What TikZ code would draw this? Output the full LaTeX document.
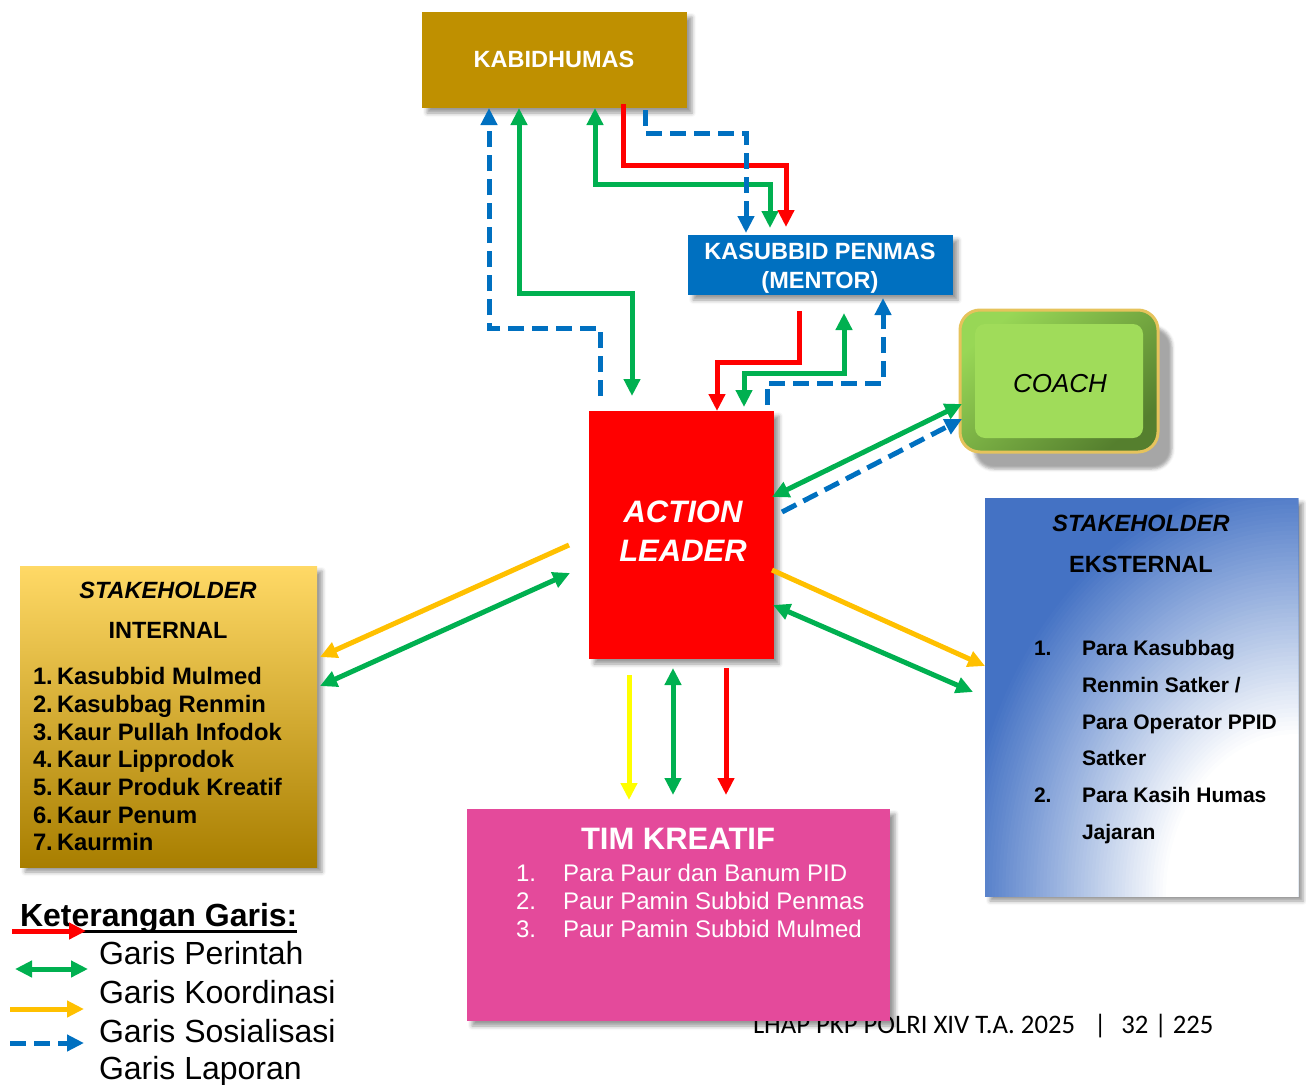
\documentclass[tikz,border=0pt]{standalone}
\usepackage{fontspec}
\setmainfont{Liberation Sans}
\newfontfamily\footfont{Carlito}
\usetikzlibrary{arrows.meta,shadows.blur,calc}
\definecolor{ckab}{HTML}{BF9000}
\definecolor{cks}{HTML}{0070C0}
\definecolor{cred}{HTML}{FF0000}
\definecolor{cgreen}{HTML}{00B050}
\definecolor{corange}{HTML}{FFC000}
\definecolor{cyellow}{HTML}{FFFF00}
\definecolor{cblue}{HTML}{0070C0}
\definecolor{ctk}{HTML}{E44A9B}
\definecolor{cse}{HTML}{4472C4}
\definecolor{sitop}{HTML}{FFD966}
\definecolor{simid}{HTML}{FFC000}
\definecolor{sibot}{HTML}{A87E00}
\definecolor{coface}{HTML}{A0DC5A}
\definecolor{colight}{HTML}{98D756}
\definecolor{codark}{HTML}{557F2E}
\definecolor{coborder}{HTML}{E6C35C}
\newcommand\fsz[1]{\fontsize{#1}{#1}\selectfont}
\tikzset{
  box/.style={draw=none, inner sep=0pt, outer sep=0pt, anchor=north west,
    blur shadow={shadow xshift=5pt, shadow yshift=-5pt, shadow blur radius=4pt, shadow opacity=40}},
  txt/.style={inner sep=0pt, outer sep=0pt},
  tipT/.tip={Triangle[length=17pt,width=16pt]},
  conn/.style={line width=5pt},
  perintah/.style={conn, draw=cred, -tipT},
  koord/.style={conn, draw=cgreen, tipT-tipT},
  sosial/.style={conn, draw=corange, -tipT},
  laporan/.style={conn, draw=cblue, dash pattern=on 16pt off 8pt, -tipT},
}
\begin{document}
\begin{tikzpicture}[x=1pt,y=-1pt]
\useasboundingbox (0,0) rectangle (1306,1084);

% footer (under the TIM KREATIF box)
\node[txt, anchor=base west] (foot) at (753,1033) {\footfont\fsz{26.7pt}LHAP PKP POLRI XIV T.A. 2025\hspace{19pt}|\hspace{15pt}32 | 225};

% boxes
\node[box, fill=ckab, minimum width=265pt, minimum height=96pt] (kab) at (422,12) {};
\node[txt, text=white, font=\bfseries\fsz{23.5pt}, anchor=base] at (554,67) {KABIDHUMAS};

\node[box, fill=cks, minimum width=265pt, minimum height=60pt] (ks) at (688,235) {};
\node[txt, text=white, font=\bfseries\fsz{23.5pt}, anchor=base] at (820,259) {KASUBBID PENMAS};
\node[txt, text=white, font=\bfseries\fsz{23.5pt}, anchor=base] at (820,288) {(MENTOR)};

\node[box, fill=cred, minimum width=185pt, minimum height=248pt] (al) at (589,411) {};
\node[txt, text=white, font=\bfseries\itshape\fsz{31pt}, anchor=base] at (683,522) {ACTION};
\node[txt, text=white, font=\bfseries\itshape\fsz{31pt}, anchor=base] at (683,561) {LEADER};

% coach
\node[anchor=north west, inner sep=0pt, outer sep=0pt, minimum width=198pt, minimum height=142pt,
  rounded corners=20pt, draw=coborder, line width=3pt, top color=colight, bottom color=codark, shading angle=40,
  blur shadow={shadow xshift=14pt, shadow yshift=-17pt, shadow blur radius=3pt, shadow opacity=35}] (co) at (960,310) {};
\fill[coface, rounded corners=10pt] (975,324) rectangle (1143,438);
\node[txt, font=\itshape\fsz{26pt}, anchor=base] at (1060,392) {COACH};

% stakeholder internal
\node[box, minimum width=297pt, minimum height=301pt, top color=sitop, middle color=simid, bottom color=sibot] (si) at (20,566) {};
\node[txt, font=\bfseries\itshape\fsz{23.5pt}, anchor=base] at (168,598) {STAKEHOLDER};
\node[txt, font=\bfseries\fsz{23.5pt}, anchor=base] at (168,638) {INTERNAL};
\foreach \n/\t/\yy in {1/Kasubbid Mulmed/684, 2/Kasubbag Renmin/712, 3/Kaur Pullah Infodok/740, 4/Kaur Lipprodok/767, 5/Kaur Produk Kreatif/795, 6/Kaur Penum/823, 7/Kaurmin/850}{
  \node[txt, font=\bfseries\fsz{23.8pt}, anchor=base west] at (33,\yy) {\n.};
  \node[txt, font=\bfseries\fsz{23.8pt}, anchor=base west] at (57,\yy) {\t};
}

% stakeholder eksternal
\node[box, fill=cse, minimum width=313pt, minimum height=398pt] (se) at (985,498) {};
\begin{scope}
  \clip (se.north west) rectangle (se.south east);
  \foreach \i in {60,59,...,0}{
    \pgfmathsetmacro\rx{130+\i*205/60}
    \pgfmathsetmacro\ry{160+\i*260/60}
    \pgfmathsetmacro\pc{100*\i/60}
    \fill[cse!\pc!white] (1296,894) ellipse [x radius=\rx, y radius=\ry];
  }
\end{scope}
\node[txt, font=\bfseries\itshape\fsz{23.5pt}, anchor=base] at (1141,531) {STAKEHOLDER};
\node[txt, font=\bfseries\fsz{23.5pt}, anchor=base] at (1141,572) {EKSTERNAL};
\node[txt, font=\bfseries\fsz{21pt}, anchor=base west] at (1034,655) {1.};
\node[txt, font=\bfseries\fsz{21pt}, anchor=base west] at (1082,655) {Para Kasubbag};
\node[txt, font=\bfseries\fsz{21pt}, anchor=base west] at (1082,692) {Renmin Satker /};
\node[txt, font=\bfseries\fsz{21pt}, anchor=base west] at (1082,729) {Para Operator PPID};
\node[txt, font=\bfseries\fsz{21pt}, anchor=base west] at (1082,765) {Satker};
\node[txt, font=\bfseries\fsz{21pt}, anchor=base west] at (1034,802) {2.};
\node[txt, font=\bfseries\fsz{21pt}, anchor=base west] at (1082,802) {Para Kasih Humas};
\node[txt, font=\bfseries\fsz{21pt}, anchor=base west] at (1082,839) {Jajaran};

% tim kreatif
\node[box, fill=ctk, minimum width=423pt, minimum height=212pt] (tk) at (467,809) {};
\node[txt, text=white, font=\bfseries\fsz{31pt}, anchor=base] at (678,849) {TIM KREATIF};
\foreach \n/\t/\yy in {1/Para Paur dan Banum PID/881, 2/Paur Pamin Subbid Penmas/909, 3/Paur Pamin Subbid Mulmed/937}{
  \node[txt, text=white, font=\fsz{24pt}, anchor=base west] at (516,\yy) {\n.};
  \node[txt, text=white, font=\fsz{24pt}, anchor=base west] at (563,\yy) {\t};
}

% connectors: KABIDHUMAS <-> ACTION LEADER
\draw[laporan] ([xshift=11pt,yshift=15pt]al.north west) |- (489,328) -- ([xshift=67pt]kab.south west);
\draw[koord] ([xshift=97pt]kab.south west) |- (632,293) -- ([xshift=43pt,yshift=15pt]al.north west);
% KABIDHUMAS <-> KASUBBID
\draw[koord] ([xshift=173pt]kab.south west) |- (770,184) -- ([xshift=82pt,yshift=7pt]ks.north west);
\draw[perintah] ([xshift=201pt,yshift=4pt]kab.south west) |- (786,165) -- ([xshift=98pt,yshift=8pt]ks.north west);
\draw[laporan] ([xshift=223pt,yshift=-2pt]kab.south west) |- (746,133) -- ([xshift=58pt,yshift=2pt]ks.north west);
% KASUBBID <-> ACTION LEADER
\draw[perintah] ([xshift=111pt,yshift=-16pt]ks.south west) |- (717,362) -- ([xshift=128pt]al.north west);
\draw[koord] ([xshift=156pt,yshift=-18pt]ks.south west) |- (744,373) -- ([xshift=155pt,yshift=4pt]al.north west);
\draw[laporan] ([xshift=178pt,yshift=6pt]al.north west) |- (883,383) -- ([xshift=195pt,yshift=-3pt]ks.south west);
% COACH
\draw[koord] ([xshift=-2pt,yshift=-86pt]al.north east) -- ([xshift=2pt,yshift=-94pt]co.north west);
\draw[laporan] ([xshift=8pt,yshift=-101pt]al.north east) -- ([xshift=2pt,yshift=-109pt]co.north west);
% stakeholder internal
\draw[sosial] ([xshift=-20pt,yshift=-134pt]al.north west) -- ([xshift=3pt,yshift=-91pt]si.north east);
\draw[koord] ([xshift=-19pt,yshift=-162pt]al.north west) -- ([xshift=3pt,yshift=-120pt]si.north east);
% stakeholder eksternal
\draw[sosial] ([xshift=-2pt,yshift=-159pt]al.north east) -- ([yshift=-168pt]se.north west);
\draw[koord] ([xshift=-1pt,yshift=-194pt]al.north east) -- ([xshift=-12pt,yshift=-194pt]se.north west);
% tim kreatif
\draw[conn, draw=cyellow, -tipT] ([xshift=40pt,yshift=-16pt]al.south west) -- ([xshift=162pt,yshift=9pt]tk.north west);
\draw[koord] ([xshift=84pt,yshift=-9pt]al.south west) -- ([xshift=206pt,yshift=14pt]tk.north west);
\draw[perintah] ([xshift=137pt,yshift=-9pt]al.south west) -- ([xshift=259pt,yshift=14pt]tk.north west);

% legend
\node[txt, font=\bfseries\fsz{32pt}, anchor=base west] (kt) at (20,926) {Keterangan Garis:};
\draw[line width=3pt] ([yshift=-5pt]kt.base west) -- ([yshift=-5pt]kt.base east);
\coordinate (l1a) at (12,931);   \coordinate (l1b) at (86,931);
\coordinate (l2a) at (15,969);   \coordinate (l2b) at (88,969);
\coordinate (l3a) at (10,1009);  \coordinate (l3b) at (84,1009);
\coordinate (l4a) at (10,1043);  \coordinate (l4b) at (84,1043);
\draw[perintah] (l1a) -- (l1b);
\draw[koord] (l2a) -- (l2b);
\draw[sosial] (l3a) -- (l3b);
\draw[laporan] (l4a) -- (l4b);
\node[txt, font=\fsz{32pt}, anchor=base west] at (99,964) {Garis Perintah};
\node[txt, font=\fsz{32pt}, anchor=base west] at (99,1003) {Garis Koordinasi};
\node[txt, font=\fsz{32pt}, anchor=base west] at (99,1042) {Garis Sosialisasi};
\node[txt, font=\fsz{32pt}, anchor=base west] at (99,1079) {Garis Laporan};
\end{tikzpicture}
\end{document}
